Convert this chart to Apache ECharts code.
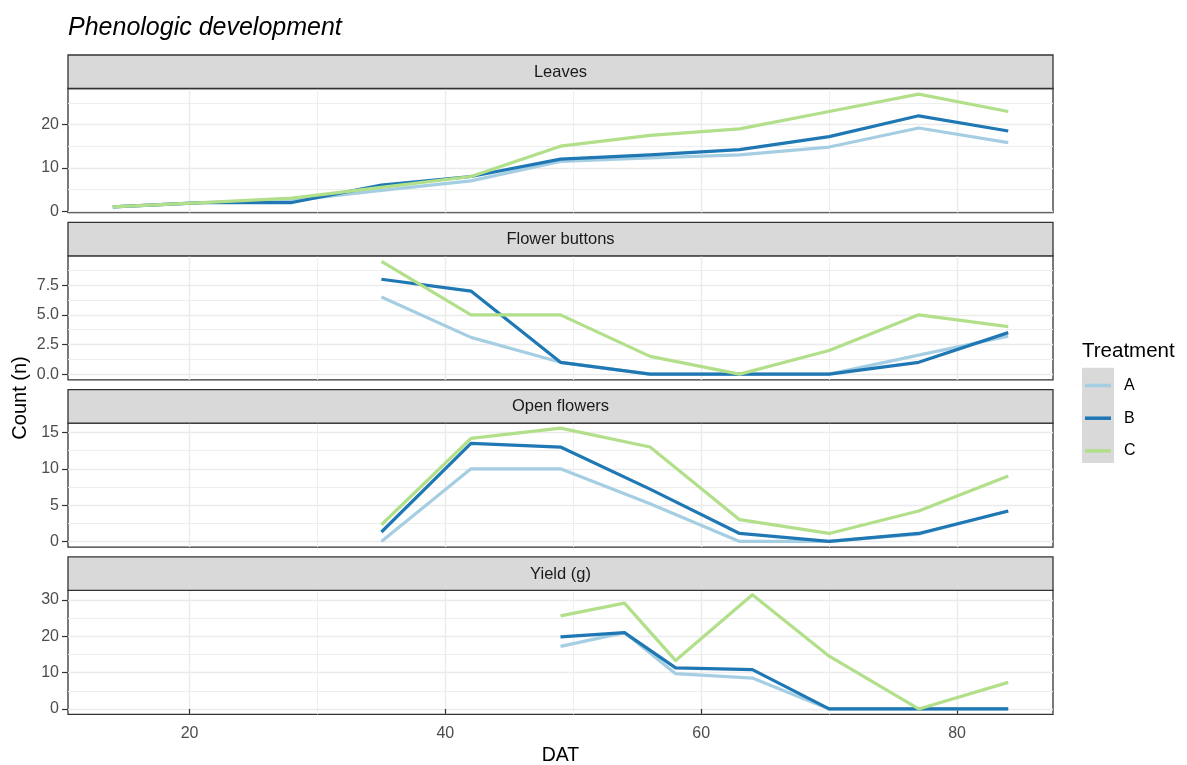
<!DOCTYPE html>
<html><head><meta charset="utf-8">
<script src="https://cdn.jsdelivr.net/npm/echarts@6/dist/echarts.min.js"></script>
<style>html,body{margin:0;padding:0;background:#fff}#c{width:1187px;height:765px}</style>
</head><body><div id="c"></div>
<script>
// ---- data ----
const TREATMENTS = ['A', 'B', 'C'];
const COLORS = ['#a6cee3', '#1f78b4', '#b2df8a'];
const PANELS = ['Leaves', 'Flower buttons', 'Open flowers', 'Yield (g)'];

const daysLeaves = [14, 21, 28, 35, 42, 49, 56, 63, 70, 77, 84];
const leavesA = [1, 2, 2.5, 4.8, 7, 11.5, 12.3, 13, 14.8, 19.2, 15.8];
const leavesB = [1, 2, 2, 6, 8, 12, 13, 14.2, 17.2, 22, 18.5];
const leavesC = [1, 2, 3, 5.5, 8, 15, 17.5, 19, 23, 27, 23];

const daysBuds = [35, 42, 49, 56, 63, 70, 77, 84];
const budsA = [6.5, 3.1, 1, 0, 0, 0, 1.6, 3.2];
const budsB = [8, 7, 1, 0, 0, 0, 1, 3.5];
const budsC = [9.5, 5, 5, 1.5, 0, 2, 5, 4];

const daysFlowers = [35, 42, 49, 56, 63, 70, 77, 84];
const flowersA = [0, 10, 10, 5.2, 0, 0, 1, 4.2];
const flowersB = [1.3, 13.5, 13, 7.2, 1.1, 0, 1.1, 4.2];
const flowersC = [2.3, 14.2, 15.6, 13, 3, 1.1, 4.2, 9];

const daysYield = [49, 54, 58, 64, 70, 77, 84];
const yieldA = [17.2, 21, 9.7, 8.5, 0, 0, 0];
const yieldB = [19.8, 21, 11.3, 10.8, 0, 0, 0];
const yieldC = [25.6, 29.1, 13.3, 31.4, 14.5, 0, 7.3];

// ---- ticks / ranges ----
const X_RANGE = [10.5, 87.5];
const X_MAJOR = [20, 40, 60, 80];
const X_MINOR = [30, 50, 70];
const Y_RANGE = [[-0.3, 28.3], [-0.475, 9.975], [-0.78, 16.3], [-1.5, 32.6]];
const Y_MAJOR = [[0, 10, 20], [0, 2.5, 5, 7.5], [0, 5, 10, 15], [0, 10, 20, 30]];
const Y_MINOR = [[5, 15, 25], [1.25, 3.75, 6.25, 8.75], [2.5, 7.5, 12.5], [5, 15, 25]];
const Y_DECIMALS = [0, 1, 0, 0];

const PANEL_DATA = [
  [daysLeaves, [leavesA, leavesB, leavesC]],
  [daysBuds, [budsA, budsB, budsC]],
  [daysFlowers, [flowersA, flowersB, flowersC]],
  [daysYield, [yieldA, yieldB, yieldC]]
];

// ---- layout ----
const FONT = '"Liberation Sans", Arial, Helvetica, sans-serif';
const L = 68, W = 985, STEP = 167.3, PTOP = 88.5, PH = 124, STOP = 55, SH = 33.5;

const chart = echarts.init(document.getElementById('c'), null, { renderer: 'canvas' });
const grids = [], xAxes = [], yAxes = [], series = [], graphics = [];

PANELS.forEach((pname, i) => {
  const bottom = i === PANELS.length - 1;
  grids.push({
    left: L, top: PTOP + STEP * i, width: W, height: PH,
    show: true, borderColor: '#333333', borderWidth: 1.3, backgroundColor: 'transparent',
    containLabel: false, outerBoundsMode: 'none'
  });
  xAxes.push({
    type: 'value', gridIndex: i, min: X_RANGE[0], max: X_RANGE[1],
    axisLine: { show: false },
    axisTick: { show: bottom, customValues: X_MAJOR, length: 6, lineStyle: { color: '#333333', width: 1.2 } },
    axisLabel: { show: bottom, customValues: X_MAJOR, margin: 11, color: '#4d4d4d', fontSize: 16, fontFamily: FONT },
    splitLine: { show: true, lineStyle: { color: '#ebebeb', width: 1.4 } },
    name: bottom ? 'DAT' : '', nameLocation: 'middle', nameGap: 31,
    nameTextStyle: { fontSize: 19.5, color: '#000', fontFamily: FONT }
  });
  xAxes.push({
    type: 'value', gridIndex: i, min: X_RANGE[0], max: X_RANGE[1],
    axisLine: { show: false },
    axisTick: { show: false, customValues: X_MINOR },
    axisLabel: { show: false, customValues: X_MINOR },
    splitLine: { show: true, lineStyle: { color: '#eeeeee', width: 1 } }
  });
  const dec = Y_DECIMALS[i];
  yAxes.push({
    type: 'value', gridIndex: i, min: Y_RANGE[i][0], max: Y_RANGE[i][1], position: 'left',
    axisLine: { show: false },
    axisTick: { show: true, customValues: Y_MAJOR[i], length: 6, lineStyle: { color: '#333333', width: 1.2 } },
    axisLabel: { show: true, customValues: Y_MAJOR[i], margin: 9, color: '#4d4d4d', fontSize: 16, fontFamily: FONT,
      formatter: v => Number(v).toFixed(dec) },
    splitLine: { show: true, lineStyle: { color: '#ebebeb', width: 1.4 } }
  });
  yAxes.push({
    type: 'value', gridIndex: i, min: Y_RANGE[i][0], max: Y_RANGE[i][1], position: 'left',
    axisLine: { show: false },
    axisTick: { show: false, customValues: Y_MINOR[i] },
    axisLabel: { show: false, customValues: Y_MINOR[i] },
    splitLine: { show: true, lineStyle: { color: '#eeeeee', width: 1 } }
  });

  const [days, vals] = PANEL_DATA[i];
  vals.forEach((arr, t) => {
    series.push({
      type: 'line', name: TREATMENTS[t], xAxisIndex: 2 * i, yAxisIndex: 2 * i,
      data: days.map((d, k) => [d, arr[k]]),
      showSymbol: false, symbol: 'none', silent: true, z: 3 + t,
      color: COLORS[t],
      lineStyle: { width: 3.2, color: COLORS[t], join: 'round', cap: 'butt' },
      itemStyle: { color: COLORS[t] }
    });
  });

  graphics.push({
    type: 'rect', z: 5,
    shape: { x: L, y: STOP + STEP * i, width: W, height: SH },
    style: { fill: '#d9d9d9', stroke: '#333333', lineWidth: 1.3 }
  });
  graphics.push({
    type: 'text', z: 6,
    x: L + W / 2, y: STOP + STEP * i + SH / 2 + 0.5,
    style: { text: pname, fill: '#1a1a1a', font: '16.5px ' + FONT, align: 'center', verticalAlign: 'middle' }
  });
});

graphics.push({
  type: 'text', x: 20, y: 398, rotation: Math.PI / 2,
  style: { text: 'Count (n)', fill: '#000', font: '20px ' + FONT, align: 'center', verticalAlign: 'middle' }
});
graphics.push({
  type: 'text', x: 1082, y: 351,
  style: { text: 'Treatment', fill: '#000', font: '20.5px ' + FONT, align: 'left', verticalAlign: 'middle' }
});
graphics.push({
  type: 'rect', z: 0,
  shape: { x: 1082, y: 367.7, width: 32, height: 95.3 },
  style: { fill: '#d9d9d9' }
});

chart.setOption({
  backgroundColor: '#ffffff',
  animation: false,
  title: {
    text: 'Phenologic development', left: 68, top: 16, padding: 0,
    textStyle: { fontSize: 25, fontStyle: 'italic', fontWeight: 'normal', color: '#000', fontFamily: FONT }
  },
  legend: {
    data: TREATMENTS, orient: 'vertical', left: 1085, top: 377.5, padding: 0,
    itemWidth: 26, itemHeight: 3.5, itemGap: 16.7, icon: 'rect', selectedMode: false,
    itemStyle: { borderWidth: 0 },
    textStyle: { fontSize: 16, lineHeight: 15, color: '#000', fontFamily: FONT, padding: [0, 0, 0, 8] }
  },
  grid: grids, xAxis: xAxes, yAxis: yAxes, series: series, graphic: graphics
});
</script>
</body></html>
